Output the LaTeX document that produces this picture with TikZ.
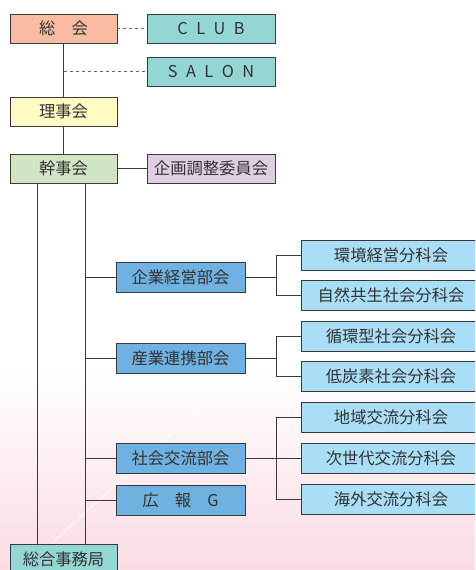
\documentclass[tikz,border=0pt]{standalone}
\usepackage{fontspec}
\setmainfont{Noto Sans CJK JP}
\usetikzlibrary{calc}
\definecolor{txt}{HTML}{333333}
\definecolor{edge}{HTML}{3A3A3A}
\definecolor{salmon}{HTML}{F9BBA2}
\definecolor{teal}{HTML}{94D6D3}
\definecolor{ylw}{HTML}{FFF9C4}
\definecolor{grn}{HTML}{CFE5C4}
\definecolor{lav}{HTML}{E0CDE4}
\definecolor{bublue}{HTML}{6FB1E1}
\definecolor{ltblue}{HTML}{A9DEF6}
\definecolor{pinkbg}{HTML}{FADCE3}
\tikzset{
  box/.style={draw=edge, line width=0.9pt, text=txt, inner sep=0pt,
    font=\fontsize{16.3}{17}\selectfont, minimum height=29pt},
  leftbox/.style={box, minimum width=107pt},
  sidebox/.style={box, minimum width=128pt},
  bubox/.style={box, fill=bublue, minimum width=129pt, minimum height=30pt},
  subbox/.style={box, fill=ltblue, minimum width=180pt, minimum height=30pt},
  conn/.style={draw=edge, line width=0.9pt},
  dconn/.style={draw=gray!80!black, line width=0.9pt, dash pattern=on 3pt off 3pt}
}
\begin{document}
\begin{tikzpicture}[x=1pt, y=-1pt]
\useasboundingbox (0,0) rectangle (475,570);
\clip (0,0) rectangle (475,570);
% background
\fill[white] (0,0) rectangle (475,570);
\shade[top color=white, bottom color=pinkbg] (0,370) rectangle (475,570);
\draw[white, line width=0.8pt, opacity=0.8] (52,543) -- (203,405);
% nodes
\node[leftbox, fill=salmon] (soukai) at (63.5,28.5) {総　会};
\node[sidebox, fill=teal] (club) at (211,28.5) {C\hspace{8.5pt}L\hspace{8.5pt}U\hspace{8.5pt}B};
\node[sidebox, fill=teal] (salon) at (211,71.5) {S\hspace{8.5pt}A\hspace{8.5pt}L\hspace{8.5pt}O\hspace{8.5pt}N};
\node[leftbox, fill=ylw] (riji) at (63.5,111.5) {理事会};
\node[leftbox, fill=grn] (kanji) at (63.5,168.5) {幹事会};
\node[sidebox, fill=lav] (kikaku) at (211,168.5) {企画調整委員会};
\node[bubox] (bu1) at (180.5,277) {企業経営部会};
\node[bubox] (bu2) at (180.5,358) {産業連携部会};
\node[bubox] (bu3) at (180.5,458) {社会交流部会};
\node[bubox] (kouhou) at (180.5,500) {広　報　G};
\node[leftbox, fill=teal, minimum height=30pt] (jimu) at (63.5,559) {総合事務局};
\node[subbox] (r1) at (391,255) {環境経営分科会};
\node[subbox] (r2) at (391,295.5) {自然共生社会分科会};
\node[subbox] (r3) at (391,336) {循環型社会分科会};
\node[subbox] (r4) at (391,376.5) {低炭素社会分科会};
\node[subbox] (r5) at (391,417) {地域交流分科会};
\node[subbox] (r6) at (391,458) {次世代交流分科会};
\node[subbox] (r7) at (391,499) {海外交流分科会};
% coordinates
\coordinate (trunkL) at (37,0);
\coordinate (trunkR) at (85,0);
\coordinate (br) at (276,0);
% connectors
\draw[conn] (soukai) -- (riji);
\draw[conn] (riji) -- (kanji);
\draw[dconn] (soukai.east) -- (club.west);
\draw[dconn] (salon.west -| soukai) -- (salon.west);
\draw[conn] (kanji.east) -- (kikaku.west);
\draw[conn] (kanji.south -| trunkL) -- (jimu.north -| trunkL);
\draw[conn] (kanji.south -| trunkR) -- (jimu.north -| trunkR);
\foreach \b in {bu1,bu2,bu3,kouhou}{
  \draw[conn] (\b.west -| trunkR) -- (\b.west);
}
\foreach \b in {bu1,bu2,bu3}{
  \draw[conn] (\b.east) -- (\b.east -| br);
}
\draw[conn] (r1.west) -- (r1.west -| br) -- (r2.west -| br) -- (r2.west);
\draw[conn] (r3.west) -- (r3.west -| br) -- (r4.west -| br) -- (r4.west);
\draw[conn] (r5.west) -- (r5.west -| br) -- (r7.west -| br) -- (r7.west);
\draw[conn] (r6.west -| br) -- (r6.west);
\end{tikzpicture}
\end{document}
